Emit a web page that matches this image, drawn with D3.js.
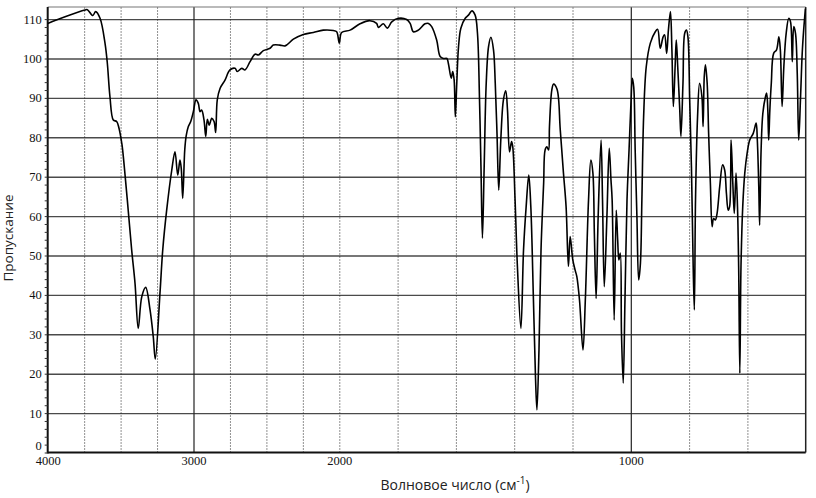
<!DOCTYPE html>
<html>
<head>
<meta charset="utf-8">
<script src="https://cdn.jsdelivr.net/npm/d3@7"></script>
<style>
  body { margin: 0; background: #fff; }
  svg { display: block; }
  .tick text { font-family: "Liberation Serif", serif; font-size: 12.5px; fill: #111; }
  .title { font-family: "Open Sans", sans-serif; fill: #222; }
</style>
</head>
<body>
<svg id="spectrum" width="816" height="498"></svg>
<script>
// IR spectrum
var wavenumber = [
  4000, 3881, 3744, 3728, 3691, 3671, 3641, 3607, 3591, 3573, 3550, 3527, 3511, 3492, 3486,
  3454, 3424, 3401, 3379, 3355, 3328, 3298, 3276, 3262, 3230, 3211, 3184, 3149, 3127, 3108,
  3093, 3084, 3074, 3060, 3050, 3036, 3019, 3001, 2983, 2967, 2955, 2944, 2928, 2916, 2905,
  2892, 2875, 2859, 2848, 2837, 2818, 2784, 2750, 2715, 2700, 2669, 2647, 2612, 2578, 2555,
  2521, 2475, 2453, 2407, 2372, 2315, 2247, 2178, 2110, 2041, 2018, 2000, 1992, 1963, 1929,
  1895, 1872, 1866, 1849, 1835, 1820, 1797, 1769, 1757, 1746, 1729, 1706, 1694, 1683, 1666,
  1654, 1643, 1631, 1626, 1616, 1611, 1606, 1602, 1597, 1591, 1583, 1568, 1557, 1545, 1534,
  1526, 1519, 1514, 1509, 1503, 1496, 1488, 1480, 1471, 1465, 1459, 1453, 1446, 1437, 1429,
  1423, 1416, 1409, 1405, 1397, 1389, 1377, 1368, 1359, 1350, 1343, 1334, 1327, 1322, 1315,
  1308, 1299, 1294, 1288, 1282, 1279, 1271, 1265, 1253, 1242, 1231, 1222, 1214, 1208, 1199,
  1191, 1185, 1176, 1164, 1156, 1145, 1137, 1130, 1125, 1119, 1112, 1102, 1097, 1091, 1082,
  1074, 1068, 1064, 1057, 1050, 1045, 1041, 1036, 1032, 1026, 1020, 1013, 1006, 999, 995,
  990, 985, 979, 973, 967, 962, 956, 947, 933, 916, 908, 899, 889, 884, 877,
  871, 864, 859, 854, 848, 844, 839, 832, 828, 821, 815, 809, 804, 798, 792,
  786, 782, 778, 771, 764, 756, 752, 748, 744, 738, 733, 727, 721, 716, 710,
  704, 695, 685, 678, 672, 666, 661, 656, 650, 645, 639, 634, 630, 626, 622,
  616, 609, 601, 592, 580, 570, 566, 561, 558, 553, 547, 538, 534, 530, 527,
  523, 518, 510, 500, 492, 487, 481, 475, 467, 458, 452, 446, 441, 435, 429,
  424, 418, 412, 407, 401];

var transmittance = [
  108.9, 110.6, 112.3, 112.4, 110.9, 111.9, 110.2, 103.9, 98.8, 90.3, 84.4, 84.0, 82.3, 78.5, 76.8,
  64.1, 51.4, 42.9, 31.5, 39.5, 41.9, 36.2, 29.4, 23.7, 40.4, 51.4, 61.5, 71.7, 76.3, 70.4,
  74.2, 72.1, 64.5, 76.8, 80.4, 82.7, 84.0, 86.5, 89.5, 88.6, 86.5, 86.9, 84.4, 80.2, 84.6,
  83.1, 84.8, 84.0, 81.2, 89.5, 92.4, 94.5, 97.1, 97.5, 96.7, 97.5, 97.1, 99.2, 101.1, 100.9,
  102.0, 102.6, 103.4, 103.4, 103.2, 104.9, 106.1, 106.6, 107.2, 107.1, 106.8, 103.9, 106.6, 107.2, 108.8,
  109.6, 108.9, 107.9, 108.8, 107.7, 109.3, 110.2, 109.9, 108.9, 106.8, 107.2, 108.8, 108.9, 108.1, 104.7,
  100.5, 100.0, 100.0, 98.8, 95.0, 96.7, 94.5, 85.2, 93.7, 103.0, 107.7, 110.2, 111.0, 112.1, 111.0,
  106.4, 89.5, 72.5, 54.4, 72.5, 93.7, 103.0, 105.4, 102.2, 93.7, 81.0, 66.6, 79.3, 89.5, 91.8,
  86.9, 76.3, 78.9, 77.6, 64.1, 47.2, 31.5, 51.4, 62.4, 70.4, 62.4, 38.7, 19.2, 10.8, 26.0,
  51.4, 68.3, 76.8, 77.6, 76.8, 82.7, 92.0, 93.5, 92.2, 81.9, 70.9, 62.4, 47.2, 54.8, 48.9,
  46.3, 44.6, 38.7, 26.0, 38.7, 64.1, 74.2, 70.9, 55.6, 39.1, 59.8, 79.3, 64.1, 42.1, 59.8,
  77.2, 69.2, 64.1, 33.6, 61.5, 53.9, 48.9, 50.6, 30.3, 17.6, 38.7, 64.1, 76.8, 89.5, 95.0,
  92.8, 76.8, 59.8, 43.8, 48.0, 64.1, 85.2, 97.9, 103.9, 106.8, 107.4, 102.6, 105.5, 106.0, 101.3,
  107.2, 111.9, 102.2, 87.8, 97.9, 104.7, 97.9, 86.9, 80.2, 93.7, 106.4, 107.2, 105.5, 89.5, 72.5,
  47.2, 36.2, 64.1, 85.2, 93.7, 90.3, 82.7, 95.4, 98.4, 93.7, 81.0, 68.3, 57.3, 59.4, 59.0,
  60.7, 67.5, 73.0, 71.7, 65.8, 61.5, 62.4, 79.3, 68.3, 60.7, 70.9, 62.4, 47.2, 20.1, 47.2,
  62.4, 70.9, 75.9, 79.3, 81.0, 83.6, 79.3, 67.5, 57.7, 76.8, 86.1, 90.3, 91.2, 86.9, 79.3,
  86.9, 93.7, 101.3, 102.2, 105.5, 102.2, 87.8, 97.9, 106.4, 110.2, 109.3, 99.2, 108.1, 106.4, 96.2,
  79.3, 89.5, 101.3, 107.2, 112.7];

var xTickLabels = [4000, 3000, 2000, 1000];
var xDottedGrid = [3750, 3500, 3250, 2750, 2500, 2250, 2000, 1800, 1600, 1400, 1200, 800, 600];
var xSolidGrid = [3000, 1000];
var yTickLabels = [0, 10, 20, 30, 40, 50, 60, 70, 80, 90, 100, 110];

var points = wavenumber.map(function(w, i) { return [w, transmittance[i]]; });

const svg = d3.select("#spectrum");
const plotLeft = 47.7, plotRight = 805.7, plotTop = 7, plotBottom = 452.5;

// Wavenumber scale changes at 2000 (2x expanded below it).
const scaleX = d3.scaleLinear()
  .domain([4000, 2000, 400])
  .range([plotLeft, 339.3, plotRight]);
const scaleY = d3.scaleLinear()
  .domain([0, 110])
  .range([plotBottom, 19.1]);

// Horizontal grid.
var yGrid = d3.axisLeft(scaleY)
  .tickValues(yTickLabels.filter(function(v) { return v > 0; }))
  .tickSizeInner(-(plotRight - plotLeft))
  .tickSizeOuter(0)
  .tickFormat("");
svg.append("g")
  .attr("transform", "translate(" + plotLeft + ",0)")
  .call(yGrid)
  .call(function(g) {
    g.select(".domain").remove();
    g.selectAll("line").attr("stroke", "#4a4a4a").attr("stroke-width", 1.4);
  });

// Vertical dotted grid.
var xDots = d3.axisBottom(scaleX)
  .tickValues(xDottedGrid)
  .tickSizeInner(-(plotBottom - plotTop))
  .tickSizeOuter(0)
  .tickFormat("");
svg.append("g")
  .attr("transform", "translate(0," + plotBottom + ")")
  .call(xDots)
  .call(function(g) {
    g.select(".domain").remove();
    g.selectAll("line").attr("stroke", "#222").attr("stroke-width", 1).attr("stroke-dasharray", "1,2");
  });

// Vertical solid grid at 3000 and 1000.
var xSolid = d3.axisBottom(scaleX)
  .tickValues(xSolidGrid)
  .tickSizeInner(-(plotBottom - plotTop))
  .tickSizeOuter(0)
  .tickFormat("");
svg.append("g")
  .attr("transform", "translate(0," + plotBottom + ")")
  .call(xSolid)
  .call(function(g) {
    g.select(".domain").remove();
    g.selectAll("line").attr("stroke", "#222").attr("stroke-width", 1.2);
  });

// Frame.
svg.append("line").attr("x1", plotLeft).attr("x2", plotRight).attr("y1", plotTop).attr("y2", plotTop)
  .attr("stroke", "#777").attr("stroke-width", 1.2);
svg.append("line").attr("x1", plotRight).attr("x2", plotRight).attr("y1", plotTop).attr("y2", plotBottom)
  .attr("stroke", "#222").attr("stroke-width", 1.5);
svg.append("line").attr("x1", plotLeft).attr("x2", plotRight).attr("y1", plotBottom).attr("y2", plotBottom)
  .attr("stroke", "#111").attr("stroke-width", 2);
svg.append("line").attr("x1", plotLeft).attr("x2", plotLeft).attr("y1", plotTop).attr("y2", plotBottom + 1)
  .attr("stroke", "#111").attr("stroke-width", 2);

// Y minor ticks every 2.
var yMinor = d3.axisLeft(scaleY)
  .tickValues(d3.range(0, 112, 2))
  .tickSize(3)
  .tickFormat("");
svg.append("g")
  .attr("transform", "translate(" + plotLeft + ",0)")
  .call(yMinor)
  .call(function(g) {
    g.select(".domain").remove();
    g.selectAll("line").attr("stroke", "#333");
  });

// Y labels.
var yAxis = d3.axisLeft(scaleY)
  .tickValues(yTickLabels)
  .tickSize(0)
  .tickPadding(6);
svg.append("g")
  .attr("transform", "translate(" + plotLeft + ",0)")
  .call(yAxis)
  .call(function(g) {
    g.select(".domain").remove();
    g.selectAll(".tick").filter(function(d) { return d === 0; })
      .select("text").attr("dy", "-0.25em");
  });

// X labels.
var xAxis = d3.axisBottom(scaleX)
  .tickValues(xTickLabels)
  .tickFormat(d3.format("d"))
  .tickSize(0)
  .tickPadding(4);
svg.append("g")
  .attr("transform", "translate(0," + plotBottom + ")")
  .call(xAxis)
  .call(function(g) { g.select(".domain").remove(); });

// Spectrum line.
const line = d3.line()
  .curve(d3.curveCatmullRom.alpha(0.5))
  .x(function(d) { return scaleX(d[0]); })
  .y(function(d) { return scaleY(d[1]); });

svg.append("path")
  .datum(points)
  .attr("fill", "none")
  .attr("stroke", "#000")
  .attr("stroke-width", 1.6)
  .attr("stroke-linejoin", "round")
  .attr("d", line);

// Axis titles.
var xt = svg.append("text")
  .attr("class", "title")
  .attr("x", 455)
  .attr("y", 490)
  .attr("text-anchor", "middle")
  .style("font-size", "14px");
xt.append("tspan").text("Волновое число (см");
xt.append("tspan").attr("dy", -6).style("font-size", "10px").text("-1");
xt.append("tspan").attr("dy", 6).text(")");

svg.append("text")
  .attr("class", "title")
  .attr("transform", "translate(13,238) rotate(-90)")
  .attr("text-anchor", "middle")
  .style("font-size", "13.5px")
  .text("Пропускание");
</script>
</body>
</html>
